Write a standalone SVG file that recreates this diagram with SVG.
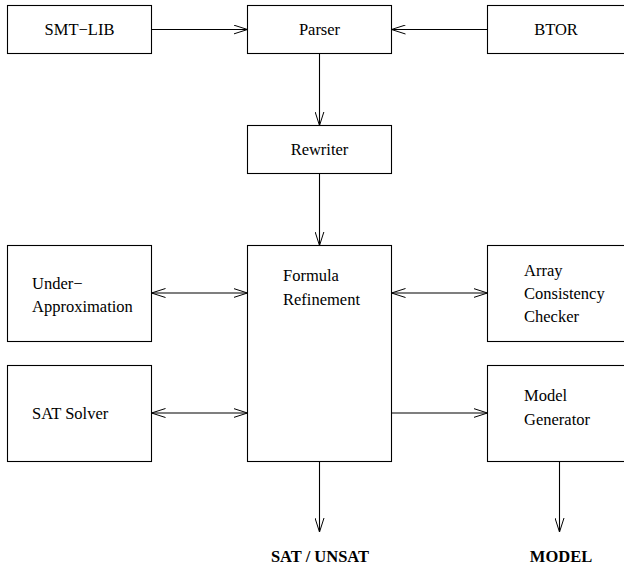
<svg xmlns="http://www.w3.org/2000/svg" width="624" height="566" viewBox="0 0 624 566">
<defs>
<marker id="ah" viewBox="0 0 14 10" refX="14" refY="5" markerWidth="14" markerHeight="10" markerUnits="userSpaceOnUse" orient="auto-start-reverse">
<path d="M0,0.5 L14,5 L0,9.5" fill="none" stroke="#000" stroke-width="1"/>
</marker>
<style>
.box{fill:#fff;stroke:#000;stroke-width:1.1}
text{font-family:'Liberation Serif','DejaVu Serif',serif;font-size:16.5px;fill:#000}
.c{text-anchor:middle}
.b{font-weight:bold}
.e{fill:none;stroke:#000;stroke-width:1.1}
</style>
</defs>
<rect width="624" height="566" fill="#fff"/>
<g id="smtlib"><rect class="box" x="7.5" y="5.5" width="144" height="48"/><text class="c" x="79.5" y="35">SMT−LIB</text></g>
<g id="parser"><rect class="box" x="247.5" y="5.5" width="144" height="48"/><text class="c" x="319.5" y="35">Parser</text></g>
<g id="btor"><rect class="box" x="487.5" y="5.5" width="144" height="48"/><text class="c" x="556" y="35">BTOR</text></g>
<g id="rewriter"><rect class="box" x="247.5" y="125.5" width="144" height="48"/><text class="c" x="319.5" y="155">Rewriter</text></g>
<g id="under"><rect class="box" x="7.5" y="245.5" width="144" height="96"/><text x="32" y="289">Under−</text><text x="32" y="312">Approximation</text></g>
<g id="formula"><rect class="box" x="247.5" y="245.5" width="144" height="216"/><text x="283" y="281">Formula</text><text x="283" y="305">Refinement</text></g>
<g id="array"><rect class="box" x="487.5" y="245.5" width="144" height="96"/><text x="524" y="276">Array</text><text x="524" y="299">Consistency</text><text x="524" y="322">Checker</text></g>
<g id="satsolver"><rect class="box" x="7.5" y="365.5" width="144" height="96"/><text x="32" y="419">SAT Solver</text></g>
<g id="model"><rect class="box" x="487.5" y="365.5" width="144" height="96"/><text x="524" y="401">Model</text><text x="524" y="425">Generator</text></g>
<g id="satunsat"><text class="c b" x="320" y="562">SAT / UNSAT</text></g>
<g id="modelout"><text class="c b" x="561" y="562">MODEL</text></g>
<g id="connectors">
<line class="e" x1="151.5" y1="29.5" x2="247.5" y2="29.5" marker-end="url(#ah)"/>
<line class="e" x1="487.5" y1="29.5" x2="391.5" y2="29.5" marker-end="url(#ah)"/>
<line class="e" x1="319.5" y1="53.5" x2="319.5" y2="125.5" marker-end="url(#ah)"/>
<line class="e" x1="319.5" y1="173.5" x2="319.5" y2="245.5" marker-end="url(#ah)"/>
<line class="e" x1="151.5" y1="293" x2="247.5" y2="293" marker-start="url(#ah)" marker-end="url(#ah)"/>
<line class="e" x1="391.5" y1="293" x2="487.5" y2="293" marker-start="url(#ah)" marker-end="url(#ah)"/>
<line class="e" x1="151.5" y1="413" x2="247.5" y2="413" marker-start="url(#ah)" marker-end="url(#ah)"/>
<line class="e" x1="391.5" y1="413" x2="487.5" y2="413" marker-end="url(#ah)"/>
<line class="e" x1="319.5" y1="461.5" x2="319.5" y2="532" marker-end="url(#ah)"/>
<line class="e" x1="559.5" y1="461.5" x2="559.5" y2="532" marker-end="url(#ah)"/>
</g>
</svg>
